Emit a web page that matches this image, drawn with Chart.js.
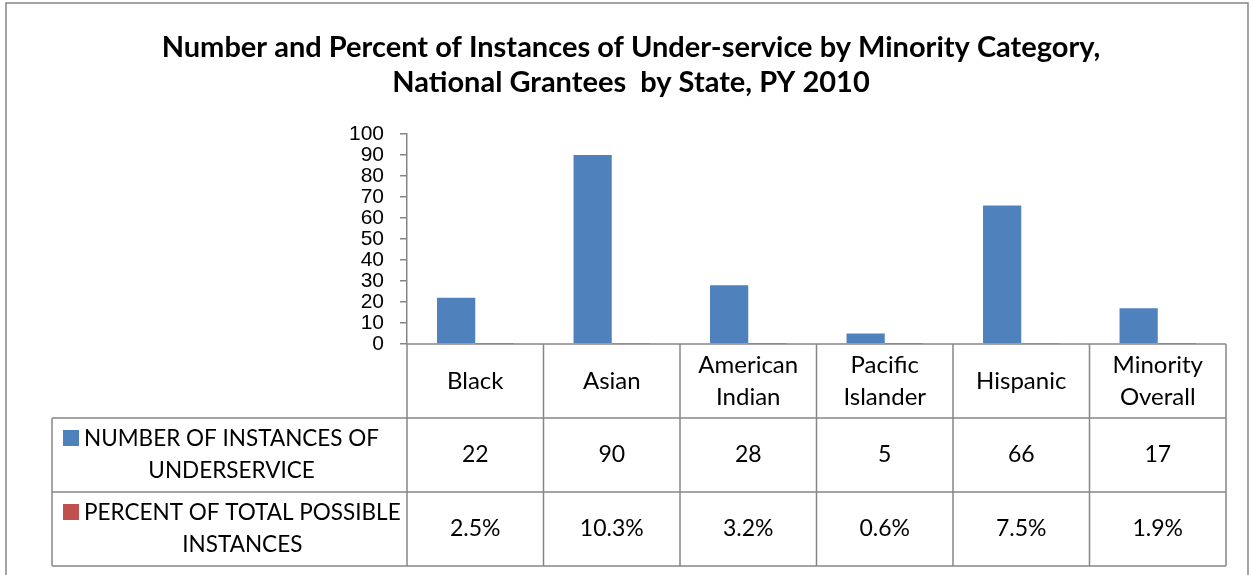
<!DOCTYPE html>
<html>
<head>
<meta charset="utf-8">
<script src="https://cdn.jsdelivr.net/npm/chart.js@4.4.1/dist/chart.umd.min.js"></script>
<style>
  html, body { margin: 0; padding: 0; background: #fff; }
</style>
</head>
<body>
<canvas id="chart" width="1253" height="575"></canvas>
<script>
// Datos
const categories = [['Black'], ['Asian'], ['American', 'Indian'], ['Pacific', 'Islander'], ['Hispanic'], ['Minority', 'Overall']];
const instances = [22, 90, 28, 5, 66, 17];
const percents = [2.5, 10.3, 3.2, 0.6, 7.5, 1.9];
const seriesNames = [['NUMBER OF INSTANCES OF', 'UNDERSERVICE'], ['PERCENT OF TOTAL POSSIBLE', 'INSTANCES']];
const titleLines = ['Number and Percent of Instances of Under-service by Minority Category,', 'National Grantees  by State, PY 2010'];
const yMin = 0, yMax = 100, yStep = 10;

const BLUE = '#4F81BD';
const RED = '#C0504D';
const LINE = '#868686';
const TEXT_FONT = '"Lato", "Open Sans", sans-serif';

// Marco, título y tabla de datos
const tablePlugin = {
    id: 'dataTable',
    beforeDraw(chart) {
        const ctx = chart.ctx;
        ctx.save();
        ctx.fillStyle = '#fff';
        ctx.fillRect(0, 0, chart.width, chart.height);
        ctx.strokeStyle = LINE;
        ctx.lineWidth = 1.5;
        ctx.strokeRect(6, 3, chart.width - 11, chart.height + 20);
        ctx.restore();
    },
    afterDraw(chart) {
        const ctx = chart.ctx;
        const area = chart.chartArea;
        const n = categories.length;
        const colW = (area.right - area.left) / n;
        const rowH = 74;
        const top = area.bottom;
        const labelLeft = 52;

        ctx.save();
        // título
        ctx.fillStyle = '#000';
        ctx.textAlign = 'center';
        ctx.textBaseline = 'middle';
        ctx.font = 'bold 29px ' + TEXT_FONT;
        ctx.fillText(titleLines[0], 631, 48);
        ctx.fillText(titleLines[1], 631, 83);

        // líneas de la tabla (incluye el eje horizontal)
        ctx.strokeStyle = LINE;
        ctx.lineWidth = 1.5;
        ctx.beginPath();
        ctx.moveTo(area.left, top);
        ctx.lineTo(area.right, top);
        for (let i = 0; i <= n; i++) {
            const x = area.left + i * colW;
            ctx.moveTo(x, top);
            ctx.lineTo(x, top + rowH * 3);
        }
        for (let r = 1; r <= 3; r++) {
            ctx.moveTo(labelLeft, top + rowH * r);
            ctx.lineTo(area.right, top + rowH * r);
        }
        ctx.moveTo(labelLeft, top + rowH);
        ctx.lineTo(labelLeft, top + rowH * 3);
        ctx.stroke();

        // encabezados de categoría
        ctx.font = '24px ' + TEXT_FONT;
        ctx.fillStyle = '#000';
        const lineH = 32;
        categories.forEach((lines, i) => {
            const cx = chart.scales.x.getPixelForValue(i);
            const cy = top + rowH / 2;
            lines.forEach((t, k) => {
                ctx.fillText(t, cx, cy + (k - (lines.length - 1) / 2) * lineH);
            });
        });

        // filas de valores
        const rows = [
            instances.map(v => String(v)),
            percents.map(v => v.toFixed(1) + '%')
        ];
        const colors = [BLUE, RED];
        rows.forEach((vals, r) => {
            const cy = top + rowH * (r + 1) + rowH / 2;
            ctx.font = '23px ' + TEXT_FONT;
            ctx.textAlign = 'center';
            vals.forEach((t, i) => {
                ctx.fillText(t, chart.scales.x.getPixelForValue(i), cy);
            });
            // etiqueta con clave de leyenda
            ctx.font = '22.5px ' + TEXT_FONT;
            const name = seriesNames[r];
            const keyX = labelLeft + 11, key = 16, gap = 5;
            const textX = keyX + key + gap;
            const w0 = ctx.measureText(name[0]).width;
            const y0 = cy - lineH / 2, y1 = cy + lineH / 2;
            ctx.fillStyle = colors[r];
            ctx.fillRect(keyX, y0 - key / 2 - 1, key, key);
            ctx.fillStyle = '#000';
            ctx.textAlign = 'left';
            ctx.fillText(name[0], textX, y0);
            ctx.textAlign = 'center';
            ctx.fillText(name[1], textX + w0 / 2, y1);
        });
        ctx.restore();
    }
};

const ctx = document.getElementById('chart').getContext('2d');
new Chart(ctx, {
    type: 'bar',
    data: {
        labels: categories.map(c => c.join(' ')),
        datasets: [{
            label: seriesNames[0].join(' '),
            data: instances,
            backgroundColor: BLUE,
            borderWidth: 0
        }, {
            label: seriesNames[1].join(' '),
            // porcentaje como fracción, igual que en la hoja original
            data: percents.map(v => v / 100),
            backgroundColor: RED,
            borderWidth: 0
        }]
    },
    options: {
        responsive: false,
        animation: false,
        datasets: {
            bar: {
                categoryPercentage: 0.56,
                barPercentage: 1
            }
        },
        layout: {
            padding: { top: 134, bottom: 231, right: 27, left: 0 }
        },
        plugins: {
            legend: { display: false },
            title: { display: false },
            tooltip: { enabled: false }
        },
        scales: {
            x: {
                display: false
            },
            y: {
                min: yMin,
                max: yMax,
                afterFit(scale) { scale.width = 407; },
                grid: {
                    display: true,
                    drawOnChartArea: false,
                    drawTicks: true,
                    tickLength: 7,
                    color: LINE,
                    lineWidth: 1.5
                },
                border: { display: true, color: LINE, width: 1.5 },
                ticks: {
                    stepSize: yStep,
                    autoSkip: false,
                    color: '#000',
                    padding: 16,
                    font: { family: '"Liberation Sans", sans-serif', size: 21, lineHeight: 1 }
                }
            }
        }
    },
    plugins: [tablePlugin]
});
</script>
</body>
</html>
